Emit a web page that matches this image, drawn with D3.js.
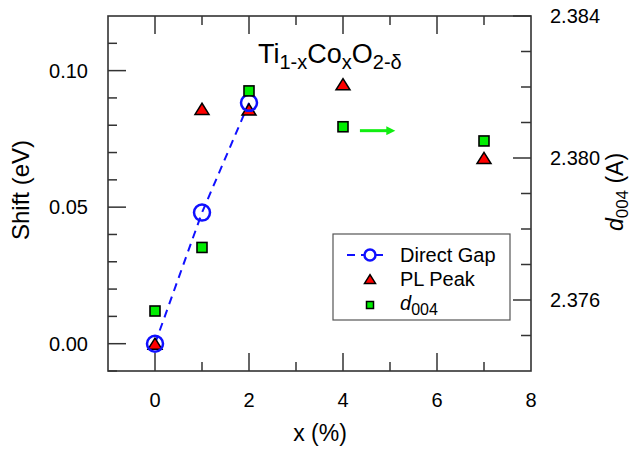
<!DOCTYPE html>
<html>
<head>
<meta charset="utf-8">
<script src="https://cdn.jsdelivr.net/npm/d3@7"></script>
<style>
  body { margin: 0; background: #fff; }
  svg { display: block; font-family: "Liberation Sans", Arial, sans-serif; }
</style>
</head>
<body>
<svg id="chart" width="634" height="449"></svg>
<script>
// data
var xPct = [0, 1, 2, 4, 7];
var gapX = [0, 1, 2];
var gapShift = [0.000, 0.048, 0.0882];
var plShift = [0.000, 0.0860, 0.0858, 0.0950, 0.0680];
var d004 = [2.37569, 2.37748, 2.38189, 2.38088, 2.38048];
var xTicks = [0, 2, 4, 6, 8];
var leftTicks = [0.00, 0.05, 0.10];
var rightTicks = [2.376, 2.380, 2.384];
var arrowX = [4.36, 5.13];
var arrowD = 2.38077;

var svg = d3.select('#chart');
// plot box (window.top is taken, so prefix these)
var pLeft = 108, pRight = 531, pTop = 16, pBottom = 371;

var x = d3.scaleLinear().domain([-1, 8]).range([pLeft, pRight]);
var yL = d3.scaleLinear().domain([-0.01, 0.12]).range([pBottom, pTop]);
var yR = d3.scaleLinear().domain([2.374, 2.384]).range([pBottom, pTop]);

var axisColor = '#333';

// frame
svg.append('rect')
  .attr('x', pLeft).attr('y', pTop)
  .attr('width', pRight - pLeft).attr('height', pBottom - pTop)
  .attr('fill', 'none').attr('stroke', axisColor).attr('stroke-width', 1.6);

// ticks, all pointing inward
function tickLines(vals, scale, orient, len) {
  vals.forEach(function(v) {
    var p = scale(v);
    var l = svg.append('line').attr('stroke', axisColor).attr('stroke-width', 1.5);
    if (orient === 'bottom') l.attr('x1', p).attr('x2', p).attr('y1', pBottom).attr('y2', pBottom - len);
    if (orient === 'top') l.attr('x1', p).attr('x2', p).attr('y1', pTop).attr('y2', pTop + len);
    if (orient === 'left') l.attr('y1', p).attr('y2', p).attr('x1', pLeft).attr('x2', pLeft + len);
    if (orient === 'right') l.attr('y1', p).attr('y2', p).attr('x1', pRight).attr('x2', pRight - len);
  });
}
var xMajor = [0, 2, 4, 6];
var xMinor = [1, 3, 5, 7];
tickLines(xMajor, x, 'bottom', 18); tickLines(xMinor, x, 'bottom', 9);
tickLines(xMajor, x, 'top', 18); tickLines(xMinor, x, 'top', 9);

var lMinor = d3.range(-1, 12).map(function(i) { return i / 100; }).filter(function(v) { return Math.round(v * 100) % 5 !== 0; });
tickLines(leftTicks, yL, 'left', 18); tickLines(lMinor, yL, 'left', 9);

var rMinor = d3.range(2375, 2384).map(function(i) { return i / 1000; }).filter(function(v) { return Math.round(v * 1000) % 4 !== 0; });
tickLines(rightTicks, yR, 'right', 18); tickLines(rMinor, yR, 'right', 10);

// tick labels
svg.selectAll('.xl').data(xTicks).enter().append('text')
  .attr('x', function(d) { return x(d); }).attr('y', 407)
  .attr('text-anchor', 'middle').attr('font-size', 20).text(function(d) { return d; });
svg.selectAll('.yl').data(leftTicks).enter().append('text')
  .attr('x', 88).attr('y', function(d) { return yL(d) + 7; })
  .attr('text-anchor', 'end').attr('font-size', 20).text(d3.format('.2f'));
svg.selectAll('.yr').data(rightTicks).enter().append('text')
  .attr('x', 550).attr('y', function(d) { return yR(d) + 7; })
  .attr('font-size', 20).text(d3.format('.3f'));

// axis titles
svg.append('text').attr('x', 320).attr('y', 441).attr('text-anchor', 'middle')
  .attr('font-size', 23).text('x (%)');
svg.append('text').attr('transform', 'translate(29,190) rotate(-90)')
  .attr('text-anchor', 'middle').attr('font-size', 24).text('Shift (eV)');
var rl = svg.append('text').attr('transform', 'translate(623,192) rotate(-90)')
  .attr('text-anchor', 'middle').attr('font-size', 23);
rl.append('tspan').attr('font-style', 'italic').text('d');
rl.append('tspan').attr('font-size', 17).attr('dy', 5).text('004');
rl.append('tspan').attr('dy', -5).text(' (A)');

// title
var t = svg.append('text').attr('x', 258).attr('y', 63).attr('font-size', 27);
t.append('tspan').text('Ti');
t.append('tspan').attr('font-size', 20).attr('dy', 6).text('1-x');
t.append('tspan').attr('dy', -6).text('Co');
t.append('tspan').attr('font-size', 20).attr('dy', 6).text('x');
t.append('tspan').attr('dy', -6).text('O');
t.append('tspan').attr('font-size', 20).attr('dy', 6).text('2-\u03b4');

// triangle centred on its bounding box
function tri(w) {
  var h = w * 0.8;
  return 'M0,' + (-h / 2) + 'L' + (w / 2) + ',' + (h / 2) + 'L' + (-w / 2) + ',' + (h / 2) + 'Z';
}

// direct gap line
svg.append('path')
  .datum(gapX.map(function(v, i) { return [v, gapShift[i]]; }))
  .attr('d', d3.line().x(function(d) { return x(d[0]); }).y(function(d) { return yL(d[1]); }))
  .attr('fill', 'none').attr('stroke', '#1010ff').attr('stroke-width', 2)
  .attr('stroke-dasharray', '8,6');

// PL peak
svg.selectAll('.pl').data(xPct).enter().append('path')
  .attr('transform', function(d, i) { return 'translate(' + x(d) + ',' + yL(plShift[i]) + ')'; })
  .attr('d', tri(14)).attr('fill', '#ff0000').attr('stroke', '#000').attr('stroke-width', 1.5);

// direct gap circles
svg.selectAll('.gap').data(gapX).enter().append('circle')
  .attr('cx', function(d) { return x(d); }).attr('cy', function(d, i) { return yL(gapShift[i]); })
  .attr('r', 8).attr('fill', 'none').attr('stroke', '#1010ff').attr('stroke-width', 2.5);

// d004 squares
svg.selectAll('.sq').data(xPct).enter().append('rect')
  .attr('x', function(d) { return x(d) - 5; }).attr('y', function(d, i) { return yR(d004[i]) - 5; })
  .attr('width', 10).attr('height', 10)
  .attr('fill', '#00ee00').attr('stroke', '#000').attr('stroke-width', 1.6);

// arrow pointing at the right axis
var defs = svg.append('defs');
defs.append('marker').attr('id', 'ah').attr('viewBox', '0 0 10 10')
  .attr('refX', 2).attr('refY', 5).attr('markerWidth', 4).attr('markerHeight', 3)
  .attr('markerUnits', 'strokeWidth').attr('orient', 'auto')
  .append('path').attr('d', 'M0,0L10,5L0,10Z').attr('fill', '#11ee11');
svg.append('line')
  .attr('x1', x(arrowX[0])).attr('x2', x(arrowX[1]) - 8)
  .attr('y1', yR(arrowD)).attr('y2', yR(arrowD))
  .attr('stroke', '#11ee11').attr('stroke-width', 3).attr('marker-end', 'url(#ah)');

// legend
var lg = svg.append('g');
lg.append('rect').attr('x', 333).attr('y', 234).attr('width', 177).attr('height', 86)
  .attr('fill', '#fff').attr('stroke', '#555').attr('stroke-width', 1.2);
lg.append('line').attr('x1', 347).attr('x2', 388).attr('y1', 255).attr('y2', 255)
  .attr('stroke', '#1010ff').attr('stroke-width', 2).attr('stroke-dasharray', '8,6');
lg.append('circle').attr('cx', 370).attr('cy', 255).attr('r', 5.5)
  .attr('fill', '#fff').attr('stroke', '#1010ff').attr('stroke-width', 2.5);
lg.append('path').attr('transform', 'translate(370,279)').attr('d', tri(11))
  .attr('fill', '#ff0000').attr('stroke', '#000').attr('stroke-width', 1.5);
lg.append('rect').attr('x', 366.5).attr('y', 301.5).attr('width', 7).attr('height', 7)
  .attr('fill', '#00ee00').attr('stroke', '#000').attr('stroke-width', 1.5);
lg.append('text').attr('x', 400).attr('y', 262).attr('font-size', 20).text('Direct Gap');
lg.append('text').attr('x', 400).attr('y', 286).attr('font-size', 20).text('PL Peak');
var lt = lg.append('text').attr('x', 400).attr('y', 310).attr('font-size', 20);
lt.append('tspan').attr('font-style', 'italic').text('d');
lt.append('tspan').attr('font-size', 16).attr('dy', 5).text('004');
</script>
</body>
</html>
